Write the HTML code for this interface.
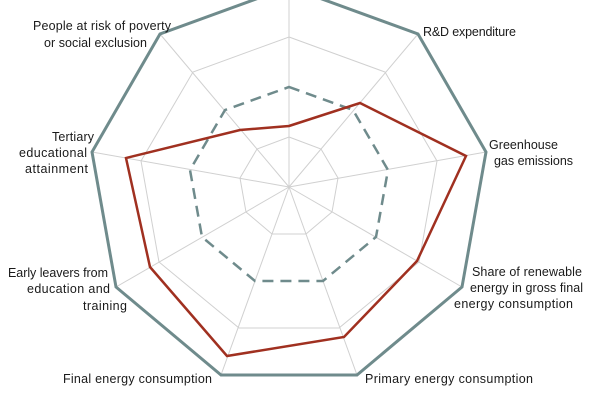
<!DOCTYPE html>
<html><head><meta charset="utf-8"><style>html,body{margin:0;padding:0;background:#fff}svg{display:block}</style></head>
<body>
<svg width="600" height="400" viewBox="0 0 600 400" xmlns="http://www.w3.org/2000/svg" font-family="Liberation Sans, sans-serif" font-size="12.5" fill="#1a1a1a">
<g fill="none" stroke="#d0d0d0" stroke-width="1">
<polygon points="289,137 321,149 338,178 332,212 306,234 272,234 246,212 240,178 257,149"/>
<polygon points="289,37 385,72 437,161 419,262 339,328 239,328 159,262 141,161 193,72"/>
<line x1="289" y1="187" x2="289" y2="-13"/><line x1="289" y1="187" x2="418" y2="34"/><line x1="289" y1="187" x2="486" y2="152"/><line x1="289" y1="187" x2="462" y2="287"/><line x1="289" y1="187" x2="357" y2="375"/><line x1="289" y1="187" x2="221" y2="375"/><line x1="289" y1="187" x2="116" y2="287"/><line x1="289" y1="187" x2="92" y2="152"/><line x1="289" y1="187" x2="160" y2="34"/>
</g>
<polygon points="289,87 353,110 388,170 376,237 323,281 255,281 202,237 190,170 225,110" fill="none" stroke="#6f8b8c" stroke-width="2.5" stroke-dasharray="11,7"/>
<polygon points="289,-13 418,34 486,152 462,287 357,375 221,375 116,287 92,152 160,34" fill="none" stroke="#6f8b8c" stroke-width="3"/>
<polygon points="289,126 360,103 466,156 417,261 344,337 227,356 150,267 126,158 240,130" fill="none" stroke="#a03020" stroke-width="2.5" stroke-linejoin="miter"/>
<text x="33" y="30" textLength="138">People at risk of poverty</text>
<text x="44" y="47" textLength="103">or social exclusion</text>
<text x="423" y="36" textLength="93">R&amp;D expenditure</text>
<text x="489" y="149" textLength="69">Greenhouse</text>
<text x="494" y="165" textLength="79">gas emissions</text>
<text x="52" y="141" textLength="42">Tertiary</text>
<text x="19" y="157" textLength="68">educational</text>
<text x="25" y="173" textLength="63">attainment</text>
<text x="472" y="276" textLength="110">Share of renewable</text>
<text x="470" y="292" textLength="113">energy in gross final</text>
<text x="454" y="308" textLength="119">energy consumption</text>
<text x="8" y="277" textLength="100">Early leavers from</text>
<text x="27" y="293" textLength="83">education and</text>
<text x="83" y="310" textLength="44">training</text>
<text x="63" y="383" textLength="149">Final energy consumption</text>
<text x="365" y="383" textLength="168">Primary energy consumption</text>
</svg>
</body></html>
